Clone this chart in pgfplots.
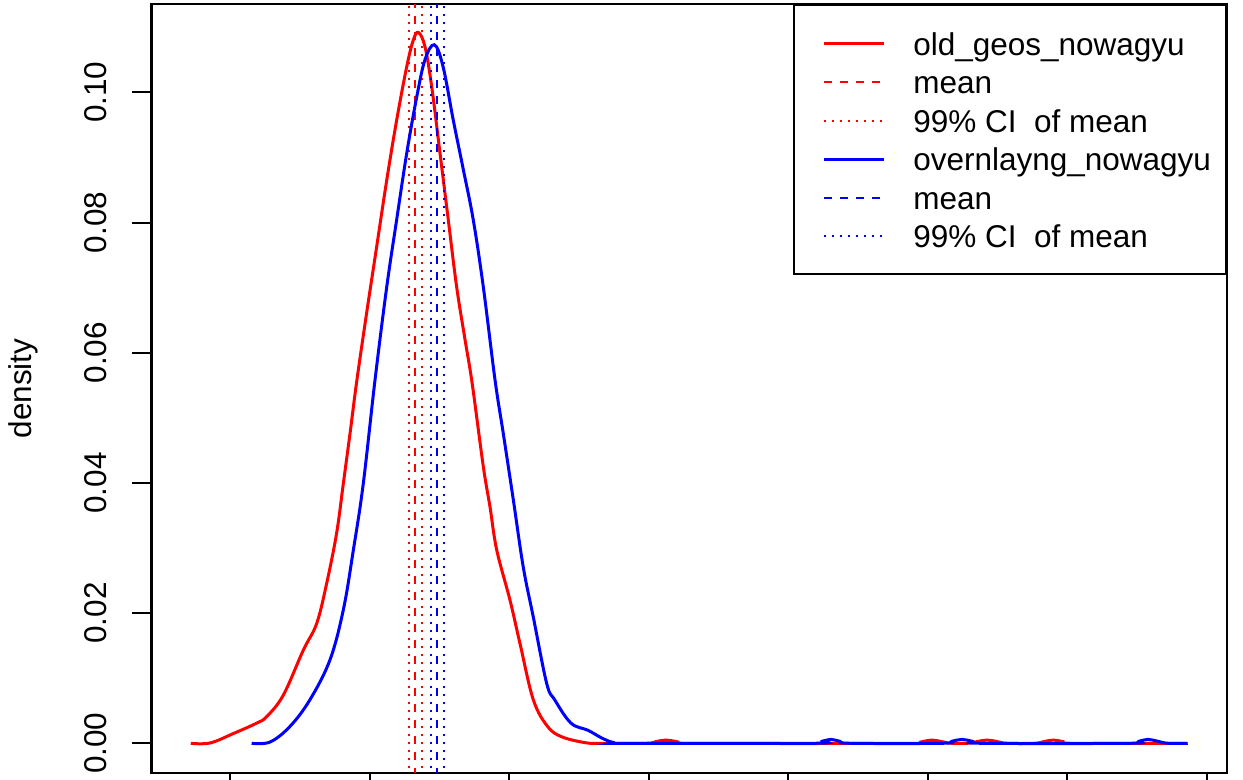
\documentclass[border=0pt]{standalone}
\usepackage{fontspec}
\setmainfont{Liberation Sans}
\usepackage{pgfplots}
\pgfplotsset{compat=1.18}
\definecolor{rred}{RGB}{255,0,0}
\definecolor{rblue}{RGB}{0,0,255}
\newcommand{\rfont}{\fontsize{15.75}{18.9}\selectfont}

\begin{document}
\begin{tikzpicture}
\begin{axis}[
  scale only axis,
  width=537.75pt, height=384.1pt,
  xmin=-0.5624, xmax=7.1434,
  ymin=-0.004516, ymax=0.11349,
  axis line style={line width=1pt},
  tick style={line width=1pt, black},
  tick align=outside,
  major tick length=9.5pt,
  tick pos=left,
  xtick={0,1,2,3,4,5,6,7},
  xticklabels={},
  ytick={0,0.02,0.04,0.06,0.08,0.1},
  /pgf/number format/assume math mode=true,
  yticklabel style={/pgf/number format/fixed, /pgf/number format/fixed zerofill,
    /pgf/number format/precision=2, font=\rfont, inner sep=0pt,
    xshift=-12.75pt, rotate=90, anchor=base},
  ylabel={density},
  every axis y label/.style={at={([xshift=-60pt]rel axis cs:0,0.5)},
    rotate=90, anchor=base, font=\rfont, inner sep=0pt},
  legend style={at={(1,1)}, anchor=north east, draw=black, line width=1pt,
    fill=white, font=\rfont, inner xsep=7.5pt, inner ysep=10.5pt,
    row sep=1.7pt, column sep=14pt,
    nodes={inner sep=0pt, text height=14.5pt, text depth=3pt}},
  legend cell align=left,
  legend image code/.code={\path (0pt,0pt); \draw[#1] (6.5pt,0pt) -- (36.5pt,0pt);},
]
% kernel density of old_geos_nowagyu
\addplot[rred, line width=1.5pt, smooth, tension=0.6] coordinates {
  (-0.281,0) (-0.143,0.00005) (0.024,0.0015) (0.191,0.0031) (0.263,0.0041)
  (0.382,0.0074) (0.525,0.0143) (0.621,0.0184) (0.693,0.0246) (0.764,0.0323)
  (0.812,0.0399) (0.860,0.0476) (0.908,0.0556) (0.979,0.0661) (1.051,0.0763)
  (1.123,0.0865) (1.194,0.0957) (1.266,0.1039) (1.313,0.1080) (1.350,0.1092)
  (1.397,0.1070) (1.445,0.1009) (1.505,0.0906) (1.564,0.0804) (1.624,0.0701)
  (1.684,0.0620) (1.735,0.0553) (1.815,0.0425) (1.863,0.0363) (1.911,0.0297)
  (2.006,0.0220) (2.078,0.0153) (2.173,0.0067) (2.275,0.0026) (2.377,0.0010)
  (2.544,0.0001) (2.651,0) (2.98,0) (3.05,0.00025) (3.124,0.0005) (3.20,0.00025)
  (3.27,0) (4.89,0) (4.96,0.00025) (5.03,0.0005) (5.10,0.00025) (5.17,0) (5.28,0)
  (5.35,0.00025) (5.424,0.0005) (5.50,0.00025) (5.57,0) (5.76,0)
  (5.83,0.00025) (5.898,0.0005) (5.97,0.00025) (6.04,0) (6.857,0)
};
\addlegendentry{old\_geos\_nowagyu}
% mean and 99% confidence interval of the mean
\addplot[rred, line width=1pt, dash pattern=on 4pt off 4pt] coordinates {(1.329,-0.01) (1.329,0.12)};
\addlegendentry{mean}
\addplot[rred, line width=1pt, dash pattern=on 1pt off 3pt] coordinates {(1.284,-0.01) (1.284,0.12)};
\addlegendentry{99\% CI\ \ of mean}
\addplot[rred, line width=1pt, dash pattern=on 1pt off 3pt, forget plot] coordinates {(1.377,-0.01) (1.377,0.12)};
% kernel density of overnlayng_nowagyu
\addplot[rblue, line width=1.5pt, smooth, tension=0.6] coordinates {
  (0.155,0) (0.287,0.0002) (0.430,0.0026) (0.573,0.0067) (0.716,0.0128)
  (0.812,0.0205) (0.884,0.0297) (0.955,0.0399) (1.039,0.0558) (1.123,0.0701)
  (1.194,0.0804) (1.266,0.0906) (1.338,0.0993) (1.397,0.1050) (1.464,0.1073)
  (1.526,0.1040) (1.600,0.0957) (1.672,0.0881) (1.743,0.0804)
  (1.815,0.0701) (1.899,0.0558) (1.958,0.0476) (2.030,0.0374) (2.101,0.0271)
  (2.173,0.0194) (2.269,0.0092) (2.326,0.0067) (2.443,0.0031) (2.565,0.0020)
  (2.665,0.0008) (2.751,0.0001) (2.85,0) (4.17,0) (4.24,0.0003) (4.306,0.0006)
  (4.37,0.0003) (4.45,0) (5.10,0) (5.17,0.0003) (5.245,0.0006) (5.32,0.0003)
  (5.39,0) (6.44,0) (6.51,0.0003) (6.577,0.0006) (6.65,0.0003) (6.72,0) (6.862,0)
};
\addlegendentry{overnlayng\_nowagyu}
\addplot[rblue, line width=1pt, dash pattern=on 4pt off 4pt] coordinates {(1.485,-0.01) (1.485,0.12)};
\addlegendentry{mean}
\addplot[rblue, line width=1pt, dash pattern=on 1pt off 3pt] coordinates {(1.440,-0.01) (1.440,0.12)};
\addlegendentry{99\% CI\ \ of mean}
\addplot[rblue, line width=1pt, dash pattern=on 1pt off 3pt, forget plot] coordinates {(1.531,-0.01) (1.531,0.12)};
\coordinate (bbsw) at (rel axis cs:0,0);
\coordinate (bbne) at (rel axis cs:1,1);
\end{axis}
\pgfresetboundingbox
\path ([xshift=-75.75pt,yshift=-3.15pt]bbsw) rectangle ([xshift=8pt,yshift=2.25pt]bbne);
\end{tikzpicture}
\end{document}
